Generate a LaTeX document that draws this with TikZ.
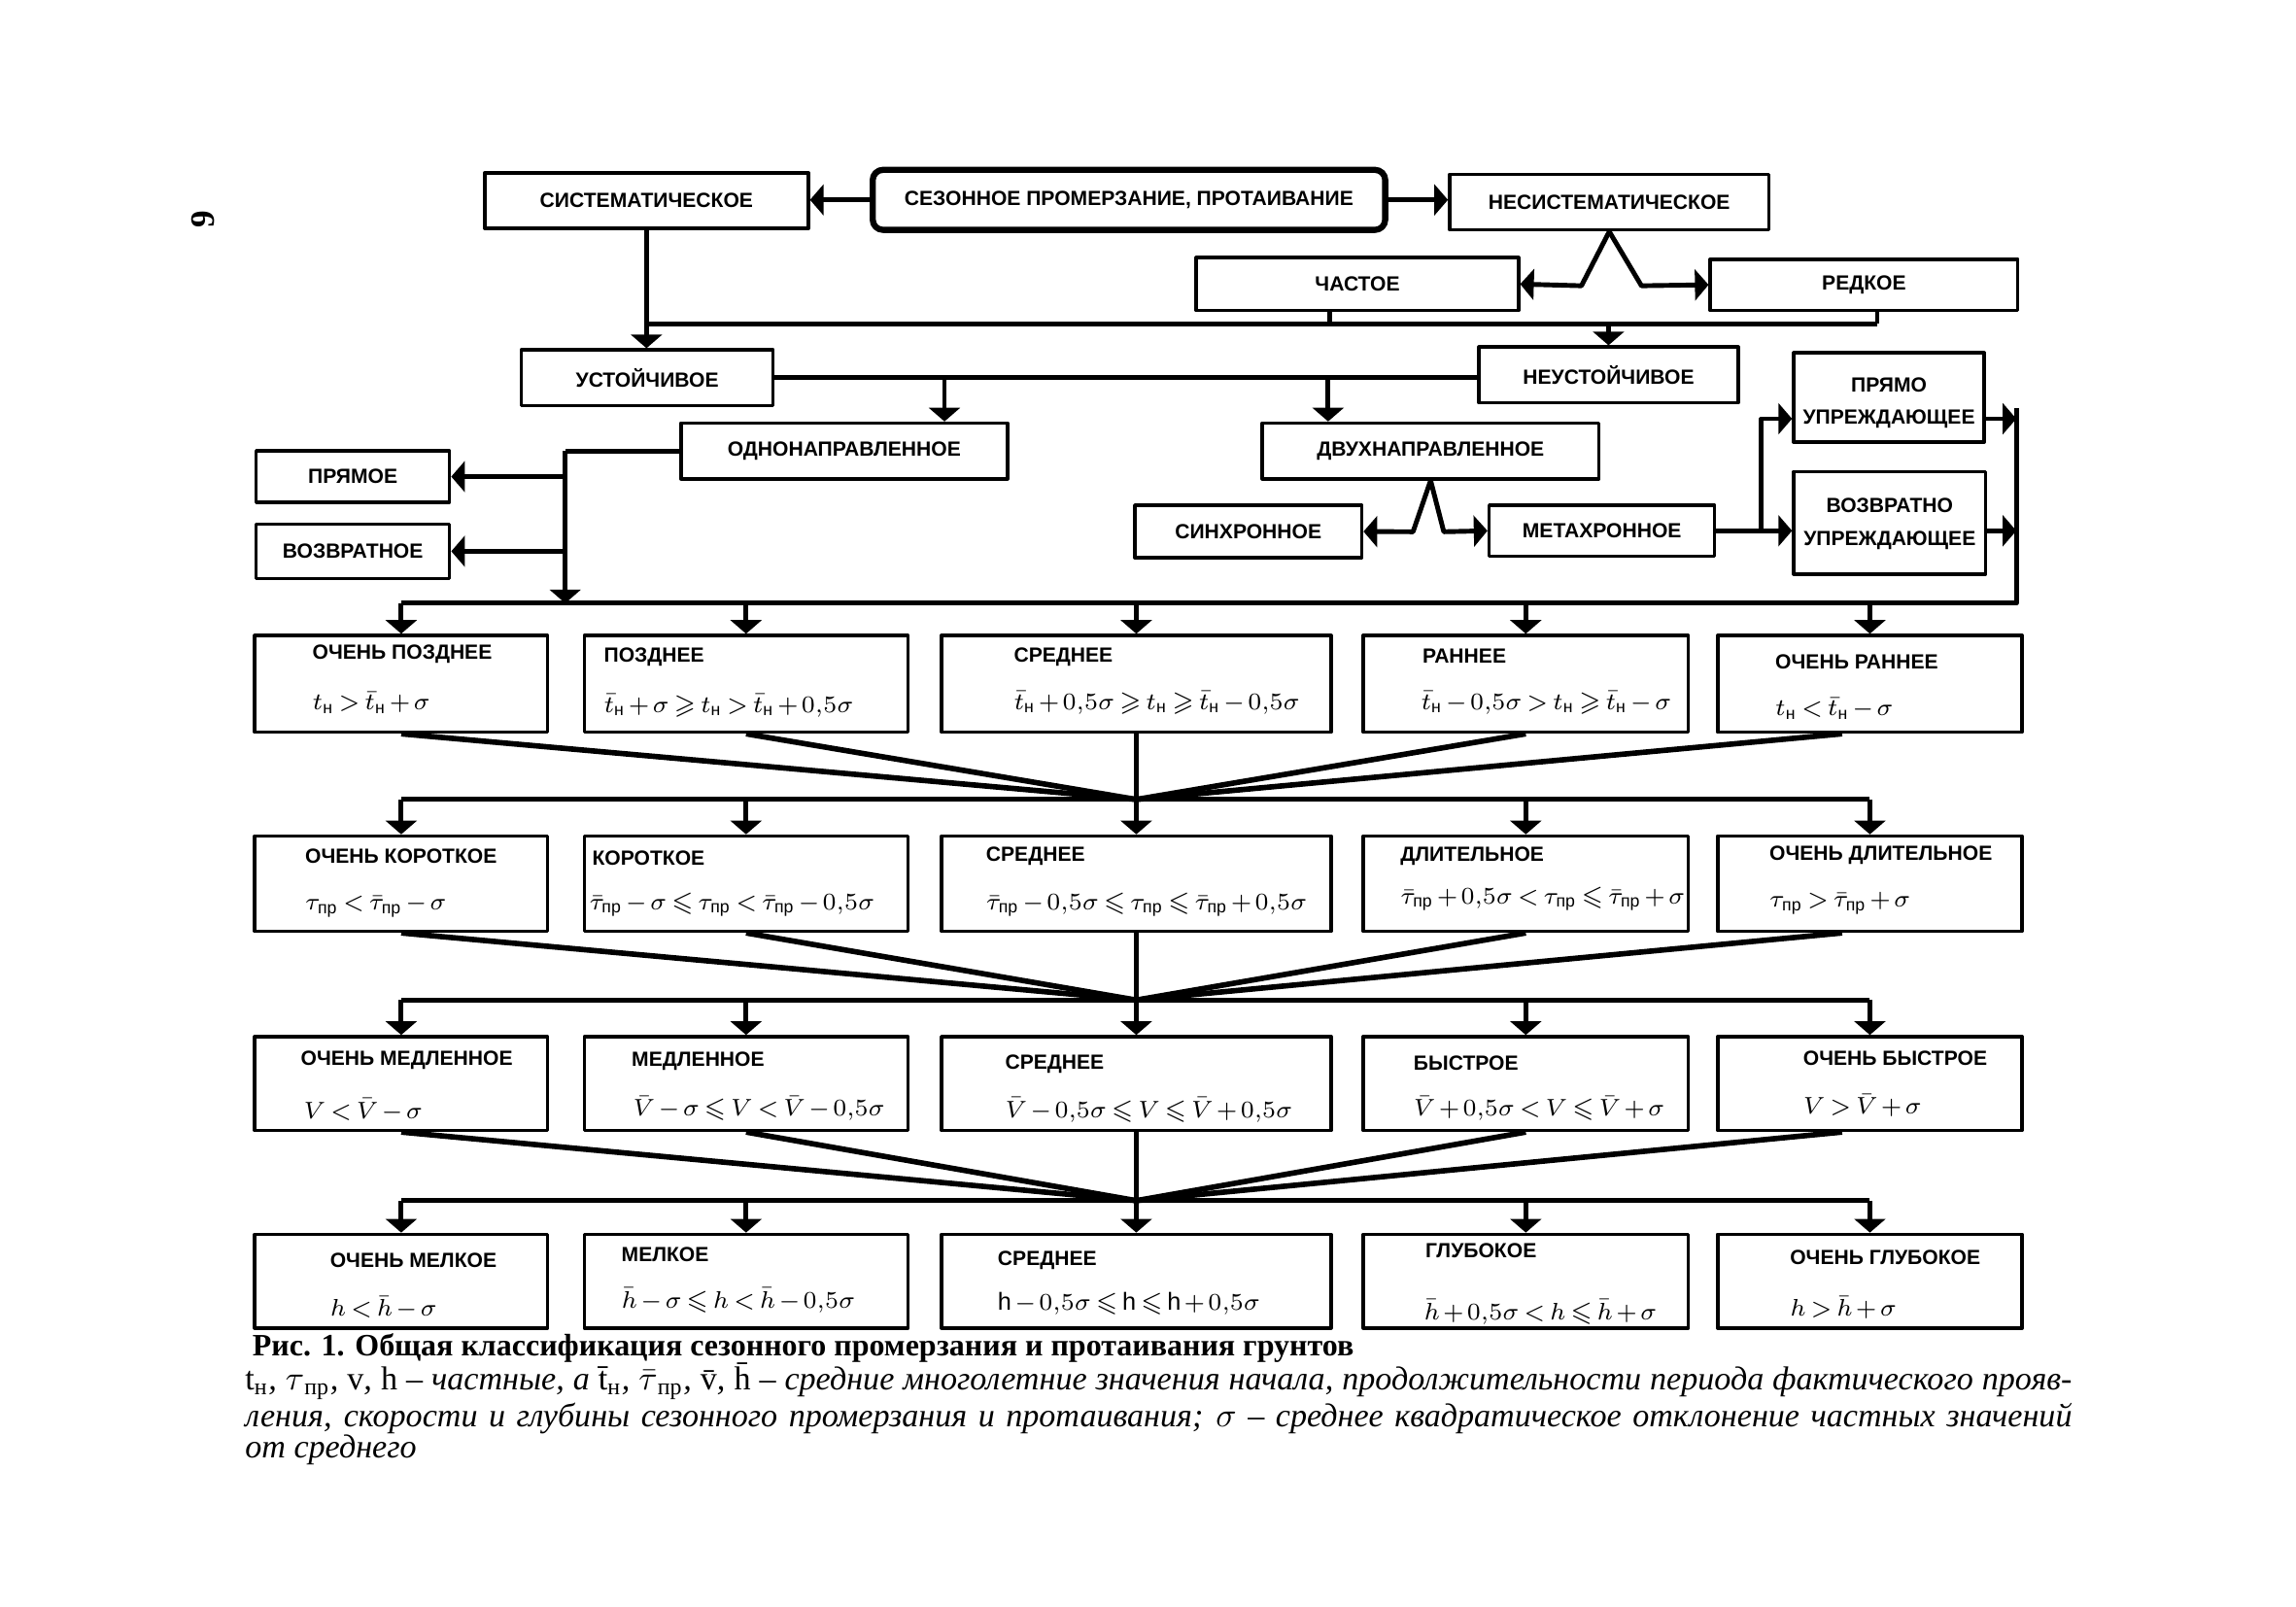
\documentclass[tikz,border=0pt]{standalone}
\usepackage{amsmath,amssymb}
\usepackage{fontspec}
\setmainfont{Liberation Sans}
\newfontfamily\capfont{Liberation Serif}
\usetikzlibrary{arrows.meta,fit,calc}
\newcommand{\tN}{t_{\text{н}}}
\newcommand{\tNb}{\bar t_{\text{н}}}
\newcommand{\tP}{\tau_{\text{пр}}}
\newcommand{\tPb}{\bar\tau_{\text{пр}}}
\newcommand{\Vb}{\bar V}
\newcommand{\hb}{\bar h}
\newcommand{\hs}{0{,}5\sigma}
\newcommand{\tightmath}{\medmuskip=2mu\relax\thickmuskip=3mu\relax}
\newcommand{\twolines}[2]{\begin{tabular}{@{}c@{}}#1\\#2\end{tabular}}
\tikzset{
  box/.style={draw, line width=1pt, inner sep=0pt},
  mainbox/.style={box, line width=1.8pt, rounded corners=3pt},
  boxtext/.style={inner sep=0pt, font=\fontsize{6}{9.5}\selectfont\bfseries},
  conn/.style={line width=1.4pt},
  arr/.style={conn, -{Triangle[width=9pt,length=4pt]}},
  ray/.style={line width=1.6pt},
  title/.style={anchor=west, inner sep=0pt, font=\fontsize{6}{7}\selectfont\bfseries},
  formula/.style={anchor=west, inner sep=0pt, font=\fontsize{7.2}{9}\selectfont},
}
\begin{document}
\begin{tikzpicture}[x=0.1507mm, y=-0.1507mm, line join=round]
\useasboundingbox (0,0) rectangle (1568,1097);
\node[rotate=90, font=\capfont\bfseries\fontsize{10}{12}\selectfont] (page) at (139,150) {9};
% upper part
\node[mainbox, fit={(596,116) (946,157)}, label={[boxtext]center:{СЕЗОННОЕ ПРОМЕРЗАНИЕ, ПРОТАИВАНИЕ}}] (season) {};
\node[box, fit={(331,118) (552,156)}, label={[boxtext]center:СИСТЕМАТИЧЕСКОЕ}] (sys) {};
\node[box, fit={(990,119) (1208,157)}, label={[boxtext]center:НЕСИСТЕМАТИЧЕСКОЕ}] (nonsys) {};
\node[box, fit={(817,176) (1037,212)}, label={[boxtext]center:ЧАСТОЕ}] (often) {};
\node[box, fit={(1168,177) (1378,212)}, label={[boxtext]center:РЕДКОЕ}] (rare) {};
\node[box, fit={(356,239) (528,277)}, label={[boxtext]center:УСТОЙЧИВОЕ}] (stable) {};
\node[box, fit={(1010,237) (1187,275)}, label={[boxtext]center:НЕУСТОЙЧИВОЕ}] (unstable) {};
\node[box, fit={(465,289) (688,327)}, label={[boxtext]center:ОДНОНАПРАВЛЕННОЕ}] (oneway) {};
\node[box, fit={(862,289) (1092,327)}, label={[boxtext]center:ДВУХНАПРАВЛЕННОЕ}] (twoway) {};
\node[box, fit={(175,308) (307,343)}, label={[boxtext]center:ПРЯМОЕ}] (straight) {};
\node[box, fit={(175,358) (307,395)}, label={[boxtext]center:ВОЗВРАТНОЕ}] (reverse) {};
\node[box, fit={(775,345) (930,381)}, label={[boxtext]center:СИНХРОННОЕ}] (sync) {};
\node[box, fit={(1017,345) (1171,380)}, label={[boxtext]center:МЕТАХРОННОЕ}] (meta) {};
\node[box, fit={(1225,241) (1355,302)}, label={[boxtext, yshift=-0.4mm]center:{\twolines{ПРЯМО}{УПРЕЖДАЮЩЕЕ}}}] (fwd) {};
\node[box, fit={(1225,322) (1356,392)}, label={[boxtext]center:{\twolines{ВОЗВРАТНО}{УПРЕЖДАЮЩЕЕ}}}] (bwd) {};
% grid of classes
\foreach \col/\xa/\xb in {1/174/374, 2/399/620, 3/643/909, 4/931/1153, 5/1173/1381}
  \foreach \row/\ya/\yb in {1/434/500, 2/571/636, 3/708/772, 4/843/907}
    \node[box, fit={(\xa,\ya) (\xb,\yb)}] (r\row-\col) {};
\foreach \x/\y/\t [count=\i] in {213/447/ОЧЕНЬ ПОЗДНЕЕ, 412/449/ПОЗДНЕЕ, 692/449/СРЕДНЕЕ, 971/448/РАННЕЕ, 1212/452/ОЧЕНЬ РАННЕЕ,
    208/585/ОЧЕНЬ КОРОТКОЕ, 404/586/КОРОТКОЕ, 673/585/СРЕДНЕЕ, 956/585/ДЛИТЕЛЬНОЕ, 1208/584/ОЧЕНЬ ДЛИТЕЛЬНОЕ,
    205/724/ОЧЕНЬ МЕДЛЕННОЕ, 431/725/МЕДЛЕННОЕ, 686/727/СРЕДНЕЕ, 965/726/БЫСТРОЕ, 1231/723/ОЧЕНЬ БЫСТРОЕ,
    225/861/ОЧЕНЬ МЕЛКОЕ, 424/857/МЕЛКОЕ, 681/861/СРЕДНЕЕ, 973/854/ГЛУБОКОЕ, 1222/859/ОЧЕНЬ ГЛУБОКОЕ}
  \node[title] (ttl\i) at (\x,\y) {\t};
\foreach \x/\y/\f [count=\i] in {
    213/480/{$\tN > \tNb + \sigma$},
    412/482/{$\tNb + \sigma \geqslant \tN > \tNb + \hs$},
    692/480/{$\tNb + \hs \geqslant \tN \geqslant \tNb - \hs$},
    970/480/{$\tNb - \hs > \tN \geqslant \tNb - \sigma$},
    1212/484/{$\tN < \tNb - \sigma$},
    208/619/{$\tP < \tPb - \sigma$},
    402/618/{$\tPb - \sigma \leqslant \tP < \tPb - \hs$},
    673/618/{$\tPb - \hs \leqslant \tP \leqslant \tPb + \hs$},
    956/614/{$\tPb + \hs < \tP \leqslant \tPb + \sigma$},
    1208/617/{$\tP > \tPb + \sigma$},
    207/758/{$V < \Vb - \sigma$},
    432/757/{$\Vb - \sigma \leqslant V < \Vb - \hs$},
    686/758/{$\Vb - \hs \leqslant V \leqslant \Vb + \hs$},
    965/757/{$\Vb + \hs < V \leqslant \Vb + \sigma$},
    1231/755/{$V > \Vb + \sigma$},
    225/893/{$h < \hb - \sigma$},
    424/888/{$\hb - \sigma \leqslant h < \hb - \hs$},
    681/890/{$\mathrm{h} - \hs \leqslant \mathrm{h} \leqslant \mathrm{h} + \hs$},
    972/896/{$\hb + \hs < h \leqslant \hb + \sigma$},
    1222/893/{$h > \hb + \sigma$}}
  \node[formula] (frm\i) at (\x,\y) {\tightmath\f};
\path
  (0,221) coordinate (sb)
  (645,258) coordinate (d1)
  (907,258) coordinate (d2)
  (386,0) coordinate (lj)
  (1203,0) coordinate (fj)
  (0,286) coordinate (fy)
  (1377,279) coordinate (rt)
  (1377,412) coordinate (rb)
  ;
% connectors, top
\draw[arr] (season.west) -- (season.west -| sys.east);
\draw[arr] (season.east) -- (season.east -| nonsys.west);
\draw[arr] (nonsys.south) -- ++(-19,37) -- (often.east);
\draw[arr] (nonsys.south) -- ++(22,37) -- (rare.west);
\coordinate (oj) at ($(often.south)+(-19,0)$);
\coordinate (rj) at ($(rare.south)+(9,0)$);
\draw[conn] (oj) -- (oj |- sb);
\draw[conn] (rj) -- (rj |- sb);
\draw[conn] (sys.south |- sb) -- (rj |- sb);
\draw[arr] (sys.south) -- (sys.south |- stable.north);
\draw[arr] (unstable.north |- sb) -- (unstable.north);
\draw[conn] (stable.east) -- (stable.east -| unstable.west);
\draw[arr] (d1) -- (d1 |- oneway.north);
\draw[arr] (d2) -- (d2 |- twoway.north);
\draw[arr] (twoway.south) -- ++(-12,35) -- (sync.east);
\draw[arr] (twoway.south) -- ++(9,35) -- (meta.west);
% left branch
\draw[conn] (oneway.west) -- (oneway.west -| lj);
\draw[arr] (oneway.west -| lj) -- (lj |- rb);
\draw[arr] (lj |- straight.east) -- (straight.east);
\draw[arr] (lj |- reverse.east) -- (reverse.east);
% right branch
\draw[arr] (meta.east) -- (meta.east -| bwd.west);
\draw[arr] (meta.east -| fj) |- (fwd.west |- fy);
\draw[arr] (fwd.east |- fy) -- (rt |- fy);
\draw[arr] (bwd.east |- meta.east) -- (rt |- meta.east);
\draw[conn] (rt) -- (rb) -- (r1-1.north |- rb);
\foreach \col in {1,...,5} \draw[arr] (r1-\col.north |- rb) -- (r1-\col.north);
% rows converge and split again
\foreach \row/\nxt/\y in {1/2/546, 2/3/683, 3/4/820} {
  \coordinate (m\row) at (776,\y);
  \foreach \col in {1,2,4} \draw[ray] (r\row-\col.south) -- (m\row);
  \draw[ray] ($(r\row-5.south)+(-19,0)$) -- (m\row);
  \draw[conn] (r\row-3.south) -- (m\row);
  \draw[conn] (r\nxt-1.north |- m\row) -- (r\nxt-5.north |- m\row);
  \foreach \col in {1,...,5} \draw[arr] (r\nxt-\col.north |- m\row) -- (r\nxt-\col.north);
}
% caption
\node[anchor=west, inner sep=0pt, font=\capfont\bfseries\fontsize{9.1}{11}\selectfont] (cap) at (172,921)
  {Рис. 1. Общая классификация сезонного промерзания и протаивания грунтов};
\node[anchor=north west, inner sep=0pt, text width=18.8cm, align=justify, font=\capfont\itshape\fontsize{9.7}{9}\selectfont] (note) at (167,930)
  {\textup{t}\textsubscript{\textup{н}}, $\tau$\textsubscript{\textup{пр}}, \textup{v}, \textup{h} – частные, а \textup{\=t}\textsubscript{\textup{н}}, $\bar\tau$\textsubscript{\textup{пр}}, \textup{\=v}, \textup{\=h} – средние многолетние значения начала, продолжительности периода фактического прояв-\linebreak
  ления, скорости и глубины сезонного промерзания и протаивания; $\sigma$ – среднее квадратическое отклонение частных значений\linebreak
  от среднего};
\end{tikzpicture}
\end{document}
